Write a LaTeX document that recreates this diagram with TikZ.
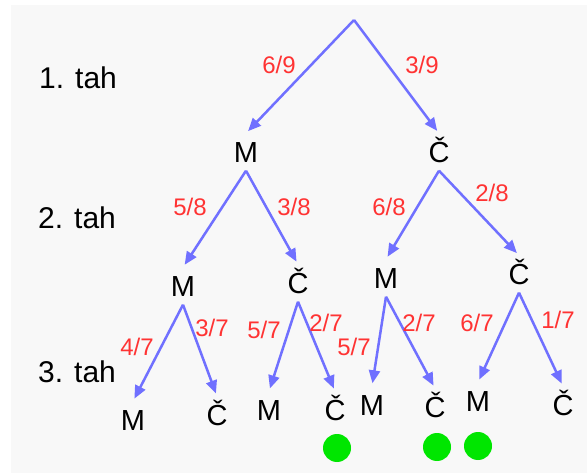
\documentclass[tikz,border=0pt]{standalone}
\usepackage{fontspec}
\setmainfont{Liberation Sans}
\usetikzlibrary{arrows.meta}
\definecolor{treeblue}{RGB}{112,112,255}
\definecolor{probred}{RGB}{255,51,51}
\definecolor{bggray}{RGB}{248,248,248}
\definecolor{hitgreen}{RGB}{0,230,0}
\tikzset{
    ball/.style={inner xsep=2pt, inner ysep=8pt, text height=21pt, text depth=0pt, font=\fontsize{29}{29}\selectfont},
    prob/.style={text=probred, inner sep=0pt, font=\fontsize{24}{24}\selectfont},
    round label/.style={inner sep=0pt, font=\fontsize{30}{30}\selectfont},
    branch/.style={-{Triangle[length=13pt,width=11pt]}, line width=2.5pt, draw=treeblue, shorten >=3pt},
    hit/.style={circle, fill=hitgreen, minimum size=28pt, inner sep=0pt},
}

\begin{document}
\begin{tikzpicture}[x=1pt, y=-1pt]
\useasboundingbox (0,0) rectangle (587,473);
\fill[bggray] (11,5) rectangle (587,473);
% rounds
\node[round label] (t1) at (78,78) {1. tah};
\node[round label] (t2) at (77,218) {2. tah};
\node[round label] (t3) at (77,372) {3. tah};
% tree
\coordinate (root) at (354,20);
\node[ball] (m1) at (246,152) {M};
\node[ball] (c1) at (439,152) {Č};
\node[ball] (m2) at (183,286) {M};
\node[ball] (c2) at (298,283) {Č};
\node[ball] (m3) at (386,278) {M};
\node[ball] (c3) at (519,274) {Č};
\node[ball] (l1) at (133,420) {M};
\node[ball] (l2) at (217,415) {Č};
\node[ball] (l3) at (269,410) {M};
\node[ball] (l4) at (335,410) {Č};
\node[ball] (l5) at (372,405) {M};
\node[ball] (l6) at (435,407) {Č};
\node[ball] (l7) at (478,401) {M};
\node[ball] (l8) at (563,405) {Č};
\draw[branch] (root) -- (m1.north);
\draw[branch] (root) -- (c1.north);
\draw[branch] (m1.south) -- (m2.north);
\draw[branch] (m1.south) -- (c2.north);
\draw[branch] (c1.south) -- (m3.north);
\draw[branch] (c1.south) -- (c3.north);
\draw[branch] (m2.south) -- (l1.north);
\draw[branch] (m2.south) -- (l2.north);
\draw[branch] (c2.south) -- (l3.north);
\draw[branch] (c2.south) -- (l4.north);
\draw[branch] (m3.south) -- (l5.north);
\draw[branch] (m3.south) -- (l6.north);
\draw[branch] (c3.south) -- (l7.north);
\draw[branch] (c3.south) -- (l8.north);
% probabilities
\node[prob] (p1) at (279,65) {6/9};
\node[prob] (p2) at (422,65) {3/9};
\node[prob] (p3) at (190,207) {5/8};
\node[prob] (p4) at (294,207) {3/8};
\node[prob] (p5) at (389,207) {6/8};
\node[prob] (p6) at (492,193) {2/8};
\node[prob] (p7) at (137,347) {4/7};
\node[prob] (p8) at (212,328) {3/7};
\node[prob] (p9) at (264,330) {5/7};
\node[prob] (p10) at (326,323) {2/7};
\node[prob] (p11) at (354,347) {5/7};
\node[prob] (p12) at (419,323) {2/7};
\node[prob] (p13) at (477,323) {6/7};
\node[prob] (p14) at (558,320) {1/7};
% favourable outcomes
\node[hit] (g1) at (337,448) {};
\node[hit] (g2) at (437,447) {};
\node[hit] (g3) at (478,446) {};
\end{tikzpicture}
\end{document}
